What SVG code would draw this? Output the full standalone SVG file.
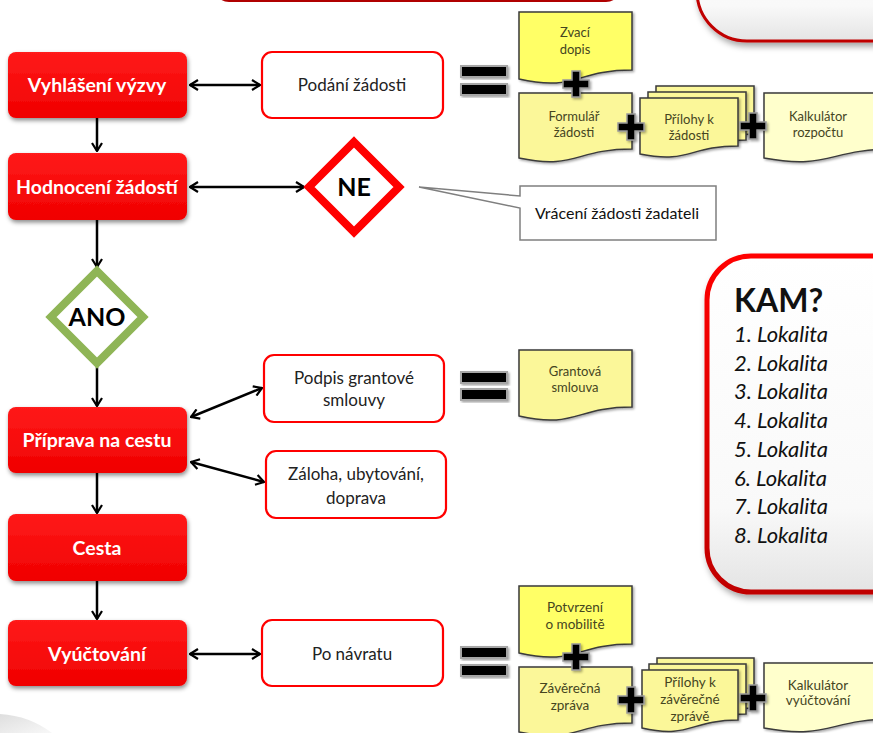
<svg xmlns="http://www.w3.org/2000/svg" width="873" height="733" viewBox="0 0 873 733">
<style>
.step{fill:url(#redG);filter:url(#sh)}
.stept{fill:#fff;font-family:Lato,"Open Sans",sans-serif;font-weight:bold;font-size:19.5px;text-anchor:middle}
.box{fill:#fff;stroke:#f00;stroke-width:2.2}
.boxt{fill:#222;font-family:Lato,"Open Sans",sans-serif;font-size:17px;text-anchor:middle}
.doc{stroke:#3a3a3a;stroke-width:1.5;filter:url(#sh2)}
.dt{fill:#45451f;font-family:Lato,"Open Sans",sans-serif;font-size:13px;text-anchor:middle}
.dt2{fill:#45451f;font-family:Lato,"Open Sans",sans-serif;font-size:13.5px;text-anchor:middle}
.y1{fill:#ffff66}.y2{fill:#fbf799}.y3{fill:#ffffcc}
.conn{stroke:#000;stroke-width:2.5;fill:none}
.eq{fill:#000;stroke:#a6a6a6;stroke-width:2;filter:url(#sh2)}
.plus{fill:#000;stroke:#9a9a9a;stroke-width:1.5;filter:url(#sh2)}
.dia{fill:#fff;stroke-width:8;stroke-linejoin:miter}
.diat{fill:#000;font-family:Lato,"Open Sans",sans-serif;font-weight:bold;font-size:25px;text-anchor:middle}
.kam{fill:#111;font-family:Lato,"Open Sans",sans-serif;font-size:22px;font-style:italic}
</style>
<defs>
<linearGradient id="redG" x1="0" y1="0" x2="0" y2="1"><stop offset="0" stop-color="#ff1a1a"/><stop offset="1" stop-color="#f00000"/></linearGradient>
<linearGradient id="kamF" x1="0" y1="0" x2="0" y2="1"><stop offset="0" stop-color="#ffffff"/><stop offset="0.75" stop-color="#f9f9f9"/><stop offset="1" stop-color="#e4e4e4"/></linearGradient>
<linearGradient id="kamS" x1="0" y1="0" x2="0" y2="1"><stop offset="0" stop-color="#ff0000"/><stop offset="1" stop-color="#c00000"/></linearGradient>
<linearGradient id="grayG" x1="0" y1="0" x2="1" y2="1"><stop offset="0" stop-color="#dedede"/><stop offset="1" stop-color="#f8f8f8"/></linearGradient>
<filter id="sh" x="-10%" y="-10%" width="125%" height="130%"><feDropShadow dx="1" dy="2.5" stdDeviation="2" flood-color="#000" flood-opacity="0.45"/></filter>
<filter id="sh2" x="-15%" y="-15%" width="135%" height="135%"><feDropShadow dx="1.5" dy="1.5" stdDeviation="1.2" flood-color="#000" flood-opacity="0.35"/></filter>
<filter id="sh3" x="-10%" y="-10%" width="125%" height="130%"><feDropShadow dx="2" dy="4" stdDeviation="3" flood-color="#000" flood-opacity="0.35"/></filter>
<marker id="ah" viewBox="0 0 10 12" refX="9" refY="6" markerWidth="10" markerHeight="12" markerUnits="userSpaceOnUse" orient="auto-start-reverse"><path d="M1,1 L9,6 L1,11" fill="none" stroke="#000" stroke-width="2.2"/></marker>
</defs>
<rect width="873" height="733" fill="#fff"/>

<g id="background">
<rect x="215" y="-60" width="405" height="61" rx="14" fill="#f2f2f2" stroke="#b00000" stroke-width="2"/>
<rect x="697" y="-100" width="250" height="141" rx="50" fill="url(#kamF)" stroke="#c00000" stroke-width="3" filter="url(#sh3)"/>
<path d="M0,714 Q30,716 52,733 L0,733 Z" fill="url(#grayG)"/>
</g>

<g id="kam-box">
<rect x="707" y="256" width="220" height="336" rx="44" fill="url(#kamF)" stroke="url(#kamS)" stroke-width="5" filter="url(#sh3)"/>
<text x="734" y="312" font-family="Lato,'Open Sans',sans-serif" font-weight="bold" font-size="32" fill="#111">KAM?</text>
<text class="kam" x="734" y="342">1. Lokalita</text>
<text class="kam" x="734" y="371">2. Lokalita</text>
<text class="kam" x="734" y="399">3. Lokalita</text>
<text class="kam" x="734" y="428">4. Lokalita</text>
<text class="kam" x="734" y="457">5. Lokalita</text>
<text class="kam" x="734" y="486">6. Lokalita</text>
<text class="kam" x="734" y="514">7. Lokalita</text>
<text class="kam" x="734" y="543">8. Lokalita</text>
</g>

<g id="connectors">
<path class="conn" d="M97,118 V151" marker-end="url(#ah)"/>
<path class="conn" d="M97,220 V267" marker-end="url(#ah)"/>
<path class="conn" d="M97,367 V406" marker-end="url(#ah)"/>
<path class="conn" d="M97,473 V513" marker-end="url(#ah)"/>
<path class="conn" d="M97,581 V619" marker-end="url(#ah)"/>
<path class="conn" d="M190,85 H260" marker-start="url(#ah)" marker-end="url(#ah)"/>
<path class="conn" d="M190,187 H304" marker-start="url(#ah)" marker-end="url(#ah)"/>
<path class="conn" d="M191,417 L262,388" marker-start="url(#ah)" marker-end="url(#ah)"/>
<path class="conn" d="M191,462 L264,482" marker-start="url(#ah)" marker-end="url(#ah)"/>
<path class="conn" d="M190,654 H260" marker-start="url(#ah)" marker-end="url(#ah)"/>
</g>

<g id="step-vyhlaseni"><rect class="step" x="8" y="52" width="179" height="66" rx="8"/><text class="stept" x="97" y="92">Vyhlášení výzvy</text></g>
<g id="step-hodnoceni"><rect class="step" x="8" y="153" width="179" height="67" rx="8"/><text class="stept" x="97" y="194">Hodnocení žádostí</text></g>
<g id="step-priprava"><rect class="step" x="8" y="407" width="179" height="66" rx="8"/><text class="stept" x="97" y="447">Příprava na cestu</text></g>
<g id="step-cesta"><rect class="step" x="8" y="514" width="179" height="67" rx="8"/><text class="stept" x="97" y="555">Cesta</text></g>
<g id="step-vyuctovani"><rect class="step" x="8" y="620" width="179" height="66" rx="8"/><text class="stept" x="97" y="661">Vyúčtování</text></g>

<g id="dia-ano"><path class="dia" stroke="#8fb556" d="M97,271 L143,317 L97,363 L51,317 Z"/><text class="diat" x="97" y="326">ANO</text></g>
<g id="dia-ne"><path class="dia" stroke="#f00" d="M354,142 L399,187 L354,232 L309,187 Z"/><text class="diat" x="354" y="196">NE</text></g>

<g id="box-podani"><rect class="box" x="262" y="52" width="181" height="66" rx="10"/><text class="boxt" x="352" y="91">Podání žádosti</text></g>
<g id="box-podpis"><rect class="box" x="264" y="355" width="180" height="67" rx="10"/><text class="boxt" x="354" y="384">Podpis grantové</text><text class="boxt" x="354" y="406">smlouvy</text></g>
<g id="box-zaloha"><rect class="box" x="266" y="451" width="180" height="67" rx="10"/><text class="boxt" x="356" y="480">Záloha, ubytování,</text><text class="boxt" x="356" y="504">doprava</text></g>
<g id="box-po"><rect class="box" x="262" y="620" width="181" height="66" rx="10"/><text class="boxt" x="352" y="660">Po návratu</text></g>

<g id="callout-vraceni">
<path d="M520,186 H716 V240 H520 V208 L419,187 L520,196 Z" fill="#fff" stroke="#7f7f7f" stroke-width="1.5"/>
<text x="617" y="219" font-family="Lato,'Open Sans',sans-serif" font-size="16" fill="#111" text-anchor="middle">Vrácení žádosti žadateli</text>
</g>

<g id="equals">
<rect class="eq" x="461" y="66" width="46" height="11"/><rect class="eq" x="461" y="84" width="46" height="11"/>
<rect class="eq" x="461" y="372" width="46" height="11"/><rect class="eq" x="461" y="389" width="46" height="11"/>
<rect class="eq" x="461" y="647" width="46" height="11"/><rect class="eq" x="461" y="665" width="46" height="11"/>
</g>

<g id="doc-zvaci"><path class="doc y1" d="M519,12 H632 V70 C575.5,70 575.5,92 519,79 Z"/><text class="dt" x="575" y="37">Zvací</text><text class="dt" x="575" y="54">dopis</text></g>
<g id="doc-formular"><path class="doc y2" d="M519,93 H632 V149 C575.5,149 575.5,170 519,158 Z"/><text class="dt" x="574" y="121">Formulář</text><text class="dt" x="574" y="137">žádosti</text></g>
<g id="doc-prilohy">
<path class="doc y2" d="M656,86 H754 V134 C705,134 705,152 656,142 Z"/>
<path class="doc y2" d="M648,92 H746 V140 C697,140 697,158 648,148 Z"/>
<path class="doc y2" d="M640,98 H738 V146 C689,146 689,164 640,154 Z"/>
<text class="dt" x="689" y="124">Přílohy k</text><text class="dt" x="689" y="140">žádosti</text></g>
<g id="doc-kalkulator"><path class="doc y3" d="M764,93 H894 V149 C829,149 829,170 764,158 Z"/><text class="dt" x="818" y="121">Kalkulátor</text><text class="dt" x="818" y="137">rozpočtu</text></g>
<g id="doc-grantova"><path class="doc y2" d="M519,350 H632 V407 C575.5,407 575.5,429 519,416 Z"/><text class="dt" x="575" y="376">Grantová</text><text class="dt" x="575" y="392">smlouva</text></g>
<g id="doc-potvrzeni"><path class="doc y1" d="M519,586 H632 V644 C575.5,644 575.5,666 519,653 Z"/><text class="dt2" x="575" y="612">Potvrzení</text><text class="dt2" x="575" y="629">o mobilitě</text></g>
<g id="doc-zaverecna"><path class="doc y2" d="M519,667 H632 V723 C575.5,723 575.5,744 519,732 Z"/><text class="dt2" x="570" y="693">Závěrečná</text><text class="dt2" x="570" y="710">zpráva</text></g>
<g id="doc-prilohy-z">
<path class="doc y2" d="M657,658 H754 V708 C705.5,708 705.5,727 657,716 Z"/>
<path class="doc y2" d="M649,664 H746 V714 C697.5,714 697.5,733 649,722 Z"/>
<path class="doc y2" d="M642,670 H738 V720 C690,720 690,739 642,728 Z"/>
<text class="dt2" x="690" y="687">Přílohy k</text><text class="dt2" x="690" y="704">závěrečné</text><text class="dt2" x="690" y="721">zprávě</text></g>
<g id="doc-kalkulator-v"><path class="doc y3" d="M764,663 H894 V719 C829,719 829,740 764,728 Z"/><text class="dt2" x="818" y="690">Kalkulátor</text><text class="dt2" x="818" y="705">vyúčtování</text></g>

<g id="plus-signs">
<path class="plus" d="M572,71 h8 v9 h9 v8 h-9 v9 h-8 v-9 h-9 v-8 h9 Z"/>
<path class="plus" d="M627,114 h8 v9 h9 v8 h-9 v9 h-8 v-9 h-9 v-8 h9 Z"/>
<path class="plus" d="M749,113 h8 v9 h9 v8 h-9 v9 h-8 v-9 h-9 v-8 h9 Z"/>
<path class="plus" d="M572,644 h8 v9 h9 v8 h-9 v9 h-8 v-9 h-9 v-8 h9 Z"/>
<path class="plus" d="M627,687 h8 v9 h9 v8 h-9 v9 h-8 v-9 h-9 v-8 h9 Z"/>
<path class="plus" d="M749,685 h8 v9 h9 v8 h-9 v9 h-8 v-9 h-9 v-8 h9 Z"/>
</g>
</svg>
